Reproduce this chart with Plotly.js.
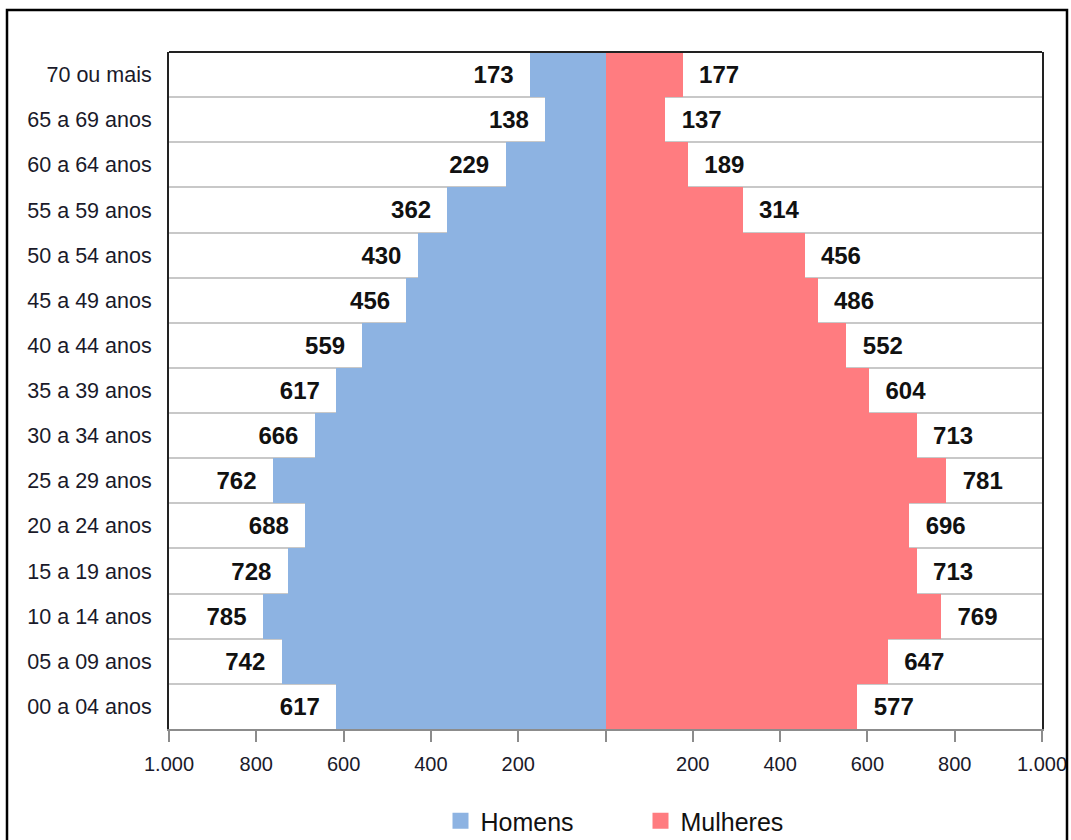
<!DOCTYPE html>
<html>
<head>
<meta charset="utf-8">
<script src="https://cdn.plot.ly/plotly-3.0.1.min.js"></script>
<style>
  html, body { margin: 0; padding: 0; background: #ffffff; }
  #chart { width: 1071px; height: 840px; }
</style>
</head>
<body>
<div id="chart"></div>
<script>
// Age groups, listed top to bottom as in the picture
const categories = [
  "70 ou mais", "65 a 69 anos", "60 a 64 anos", "55 a 59 anos", "50 a 54 anos",
  "45 a 49 anos", "40 a 44 anos", "35 a 39 anos", "30 a 34 anos", "25 a 29 anos",
  "20 a 24 anos", "15 a 19 anos", "10 a 14 anos", "05 a 09 anos", "00 a 04 anos"
];
const homens = [173, 138, 229, 362, 430, 456, 559, 617, 666, 762, 688, 728, 785, 742, 617];
const mulheres = [177, 137, 189, 314, 456, 486, 552, 604, 713, 781, 696, 713, 769, 647, 577];

// Axis tick positions and the labels printed under them
const xTickVals = [-1000, -800, -600, -400, -200, 0, 200, 400, 600, 800, 1000];
const xTickText = ["1.000", "800", "600", "400", "200", "", "200", "400", "600", "800", "1.000"];

const seriesNames = ["Homens", "Mulheres"];
const colors = ["#8DB3E2", "#FF7C80"];

const FONT = '"Liberation Sans", Arial, sans-serif';
const NB = '\u00a0\u00a0';
const labelFont = { family: FONT, size: 24, weight: 'bold', color: '#111111' };

const traces = [
  {
    type: 'bar', orientation: 'h', name: seriesNames[0],
    y: categories, x: homens.map(v => -v),
    text: homens.map(v => String(v) + NB),
    textposition: 'outside', constraintext: 'none', cliponaxis: false,
    textfont: labelFont,
    marker: { color: colors[0], line: { width: 0 } },
    hoverinfo: 'none', showlegend: false
  },
  {
    type: 'bar', orientation: 'h', name: seriesNames[1],
    y: categories, x: mulheres,
    text: mulheres.map(v => NB + String(v)),
    textposition: 'outside', constraintext: 'none', cliponaxis: false,
    textfont: labelFont,
    marker: { color: colors[1], line: { width: 0 } },
    hoverinfo: 'none', showlegend: false
  },
  // legend entries
  {
    type: 'scatter', mode: 'markers', name: seriesNames[0], x: [null], y: [null],
    marker: { symbol: 'square', size: 16, color: colors[0] }, hoverinfo: 'none'
  },
  {
    type: 'scatter', mode: 'markers', name: seriesNames[1], x: [null], y: [null],
    marker: { symbol: 'square', size: 16, color: colors[1] }, hoverinfo: 'none'
  }
];

const layout = {
  width: 1071, height: 840,
  margin: { l: 169, r: 29, t: 52, b: 111, pad: 0, autoexpand: false },
  paper_bgcolor: '#ffffff', plot_bgcolor: '#ffffff',
  barmode: 'relative', bargap: 0,
  font: { family: FONT, color: '#1a1a1a' },
  xaxis: {
    range: [-1000, 1000], tickmode: 'array', tickvals: xTickVals, ticktext: xTickText,
    showgrid: false, zeroline: false,
    showline: true, linecolor: '#8c8c8c', linewidth: 2,
    ticks: 'outside', ticklen: 11, tickwidth: 2, tickcolor: '#8c8c8c',
    ticklabeloverflow: 'allow', ticklabelstandoff: 5,
    tickfont: { family: FONT, size: 20, color: '#1a1a2a' },
    fixedrange: true
  },
  yaxis: {
    type: 'category', autorange: 'reversed',
    showgrid: true, gridcolor: '#c8c8c8', gridwidth: 2, tickson: 'boundaries',
    ticks: '', showline: true, linecolor: '#222222', linewidth: 2, mirror: true,
    ticklabelstandoff: 11,
    tickfont: { family: FONT, size: 21.5, color: '#1a1a2a' },
    fixedrange: true
  },
  yaxis2: {
    type: 'category', overlaying: 'y', anchor: 'free', position: 0.5, side: 'left',
    categoryorder: 'array', categoryarray: categories, range: [14.5, -0.5],
    showgrid: false, showline: true, linecolor: '#8c8c8c', linewidth: 2,
    ticks: 'outside', tickson: 'boundaries', ticklen: 6, tickwidth: 2, tickcolor: '#8c8c8c',
    showticklabels: false, fixedrange: true
  },
  showlegend: true,
  legend: {
    orientation: 'h', x: 0.311, xanchor: 'left', y: -0.170, yanchor: 'bottom',
    entrywidth: 155,
    font: { family: FONT, size: 25, color: '#111111' },
    itemclick: false, itemdoubleclick: false, bgcolor: 'rgba(0,0,0,0)'
  },
  shapes: [
    { type: 'line', xref: 'paper', yref: 'paper', x0: 0, x1: 1, y0: 1, y1: 1,
      line: { color: '#222222', width: 2 } },
    { type: 'rect', xref: 'paper', yref: 'paper', layer: 'above',
      x0: (7 - 169) / 873, x1: (1067 - 169) / 873, y0: -0.3, y1: (729 - 10) / 677,
      line: { color: '#000000', width: 2.5 }, fillcolor: 'rgba(0,0,0,0)' }
  ]
};

Plotly.newPlot('chart', traces, layout, { displayModeBar: false, staticPlot: true });
</script>
</body>
</html>
